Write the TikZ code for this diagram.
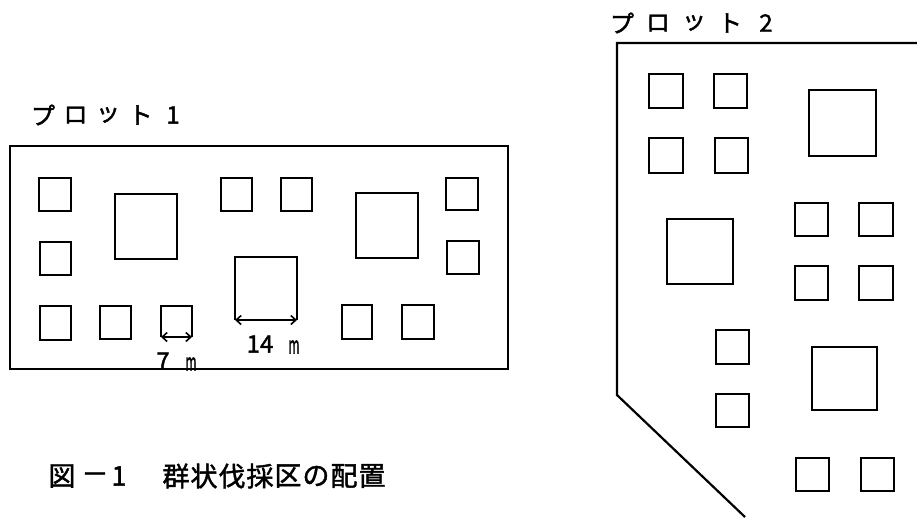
\documentclass[tikz,border=0pt]{standalone}
\usepackage{fontspec}
\newfontfamily\jp[AutoFakeBold=1.6]{Noto Sans CJK JP}
\usetikzlibrary{arrows.meta}
\begin{document}
\begin{tikzpicture}[x=1pt,y=-1pt,
  frame/.style={line width=2.2pt},
  sq/.style={draw,line width=2.1pt},
  dim/.style={line width=1.6pt,{Straight Barb[length=5pt,width=9pt]}-{Straight Barb[length=5pt,width=9pt]}},
  lbl/.style={inner sep=0pt,font=\jp\bfseries\fontsize{24}{24}\selectfont},
  captext/.style={inner sep=0pt,font=\jp\bfseries\fontsize{27}{27}\selectfont},
  num/.style={inner sep=0pt,font=\jp\bfseries\fontsize{24}{24}\selectfont}]
\useasboundingbox (0,0) rectangle (917,517);
% ---------- Plot 1 ----------
\foreach \c [count=\i] in {プ,ロ,ッ,ト,1}
  \node[lbl] (ta\i) at ({43+32.5*(\i-1)},115) {\c};
\draw[frame] (10,146) rectangle (508,369);
% small squares
\draw[sq] (39,178) rectangle (71,211);
\draw[sq] (40,242) rectangle (71,275);
\draw[sq] (40,306) rectangle (71,340);
\draw[sq] (100,306) rectangle (131,339);
\draw[sq] (221,178) rectangle (252,211);
\draw[sq] (281,178) rectangle (312,211);
\draw[sq] (446,178) rectangle (478,210);
\draw[sq] (447,241) rectangle (479,274);
\draw[sq] (342,305) rectangle (372,339);
\draw[sq] (402,305) rectangle (434,339);
% large squares
\draw[sq] (115,194) rectangle (177,259);
\draw[sq] (356,193) rectangle (418,258);
% dimensioned squares
\coordinate (s7a) at (161,337);
\coordinate (s7b) at (192,337);
\draw[sq] (s7a) -- (161,306) -- (192,306) -- (s7b);
\draw[dim] (s7a) -- (s7b);
\coordinate (s14a) at (235,320);
\coordinate (s14b) at (297,320);
\draw[sq] (s14a) -- (235,257) -- (297,257) -- (s14b);
\draw[dim] (s14a) -- (s14b);
\node[num] (n14) at (260,344) {14};
\node[num] (m14) at (294,347) {\scalebox{0.5}[1]{m}};
\node[num] (n7) at (163,361) {7};
\node[num] (m7) at (191,364) {\scalebox{0.5}[1]{m}};
% ---------- Plot 2 ----------
\foreach \c [count=\i] in {プ,ロ,ッ,ト,2}
  \node[lbl] (tb\i) at ({622+36*(\i-1)},23) {\c};
\draw[frame] (917,43) -- (617,43) -- (617,395) -- (745,517);
\draw[sq] (649,74) rectangle (683,108);
\draw[sq] (714,74) rectangle (747,108);
\draw[sq] (649,138) rectangle (683,173);
\draw[sq] (715,138) rectangle (748,173);
\draw[sq] (809,90) rectangle (876,156);
\draw[sq] (667,219) rectangle (733,284);
\draw[sq] (795,203) rectangle (828,236);
\draw[sq] (859,203) rectangle (893,236);
\draw[sq] (795,266) rectangle (828,300);
\draw[sq] (859,266) rectangle (893,300);
\draw[sq] (716,330) rectangle (749,364);
\draw[sq] (716,394) rectangle (749,427);
\draw[sq] (812,347) rectangle (877,410);
\draw[sq] (796,458) rectangle (829,491);
\draw[sq] (861,458) rectangle (894,491);
% ---------- Caption ----------
\node[captext] (c1) at (62,476) {図};
\node[captext] (c2) at (95,478) {－};
\node[captext] (c3) at (119,476) {1};
\foreach \c [count=\i] in {群,状,伐,採,区,の,配,置}
  \node[captext] (cc\i) at ({176+28*(\i-1)},476) {\c};
\end{tikzpicture}
\end{document}
